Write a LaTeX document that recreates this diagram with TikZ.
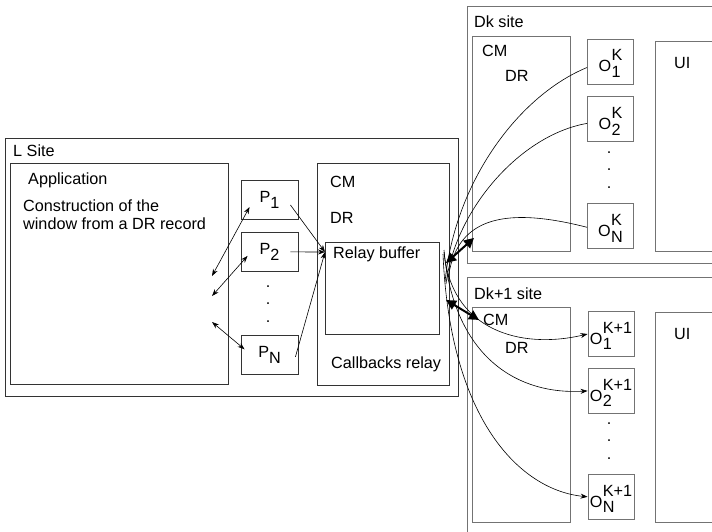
\documentclass[tikz,border=0pt]{standalone}
\usepackage{fontspec}
\setmainfont{Liberation Sans}
\usetikzlibrary{arrows.meta,positioning}

\newcommand{\pidx}[2]{#1\raisebox{-6pt}{#2}}
\newcommand{\oidx}[3]{\raisebox{-4pt}[\height][\depth]{#1\kern0.5pt\raisebox{2pt}{\begin{tabular}[c]{@{}l@{}}#2\\[-1pt]#3\end{tabular}}}}

\begin{document}
\begin{tikzpicture}[x=1pt, y=-1pt,
  every node/.style={font=\fontsize{16.2}{17.7}\selectfont, inner sep=0pt},
  sitebox/.style={draw=black!80, line width=0.9pt, anchor=north west},
  dkbox/.style={draw=black!55, line width=0.9pt, anchor=north west},
  pbox/.style={draw=black!80, line width=0.9pt, minimum width=57pt, minimum height=39pt},
  obox/.style={draw=black!55, line width=0.9pt, minimum width=46pt, minimum height=45pt},
  lbl/.style={anchor=north west, align=left},
  arr/.style={-{Stealth[length=7pt, width=5pt]}, line width=0.6pt},
  dblarr/.style={{Stealth[length=7pt, width=5pt]}-{Stealth[length=7pt, width=5pt]}, line width=0.6pt},
  bigarr/.style={{Triangle[length=10pt, width=10pt]}-{Triangle[length=10pt, width=10pt]}, line width=2pt},
  cbline/.style={line width=0.6pt}
]
\useasboundingbox (0,0) rectangle (712,531);
\clip (0,0) rectangle (712,531);

% L site
\node[sitebox, minimum width=453pt, minimum height=258pt] (lsite) at (5,138) {};
\node[lbl] (lsitelbl) at (13,145) {L Site};
\node[sitebox, minimum width=218pt, minimum height=221pt] (app) at (10,163) {};
\node[lbl] (applbl) at (28,173) {Application};
\node[lbl] (apptxt) at (23,200) {Construction of the\\window from a DR record};

\node[pbox] (p1) at (269.5,200) {\pidx{P}{1}};
\node[pbox, below=12pt of p1] (p2) {\pidx{P}{2}};
\node[pbox, below=63pt of p2] (pn) {\pidx{P}{N}};
\node[align=center] (pdots) at (268,304) {.\\.\\.};

\node[sitebox, minimum width=132pt, minimum height=222pt] (lcm) at (317,163) {};
\node[lbl] (lcmlbl) at (330,176) {CM};
\node[lbl] (ldrlbl) at (330,212) {DR};
\node[sitebox, minimum width=114pt, minimum height=92pt] (rbuf) at (325,242) {};
\node[lbl] (rbuflbl) at (333,247) {Relay buffer};
\node[lbl] (cblbl) at (331,357) {Callbacks relay};

% Dk site
\node[dkbox, minimum width=270pt, minimum height=257pt] (dk) at (467,6) {};
\node[lbl] (dklbl) at (474,16) {Dk site};
\node[dkbox, minimum width=98pt, minimum height=215pt] (dkcm) at (472,36) {};
\node[lbl] (dkcmlbl) at (482,45) {CM};
\node[lbl] (dkdrlbl) at (505,70) {DR};
\node[obox] (ok1) at (610.5,61.5) {\oidx{O}{K}{1}};
\node[obox, below=12pt of ok1] (ok2) {\oidx{O}{K}{2}};
\node[obox, below=61pt of ok2] (okn) {\oidx{O}{K}{N}};
\node[align=center] (okdots) at (609,170) {.\\.\\.};
\node[dkbox, minimum width=90pt, minimum height=210pt] (dkui) at (655,41) {};
\node[lbl] (dkuilbl) at (674,57) {UI};

% Dk+1 site
\node[dkbox, minimum width=270pt, minimum height=270pt] (dk1) at (467,277) {};
\node[lbl] (dk1lbl) at (474,288) {Dk+1 site};
\node[dkbox, minimum width=98pt, minimum height=215pt] (dk1cm) at (472,307) {};
\node[lbl] (dk1cmlbl) at (483,314) {CM};
\node[lbl] (dk1drlbl) at (505,342) {DR};
\node[obox] (o1) at (611,334) {\oidx{O}{K+1}{1}};
\node[obox, below=11pt of o1] (o2) {\oidx{O}{K+1}{2}};
\node[obox, below=60pt of o2] (on) {\oidx{O}{K+1}{N}};
\node[align=center] (odots) at (609,441) {.\\.\\.};
\node[dkbox, minimum width=90pt, minimum height=210pt] (dk1ui) at (655,312) {};
\node[lbl] (dk1uilbl) at (674,328) {UI};

% free ends
\coordinate (rbin) at ([yshift=-10pt]rbuf.north west);
\coordinate (a1) at (212,276);
\coordinate (a2) at (212,296);
\coordinate (a3) at (212,322);
\coordinate (hub1) at (446,263);
\coordinate (hub2) at (446,300);

% P -> relay buffer
\draw[arr] ([xshift=-8pt, yshift=-5pt]p1.east) -- (rbin);
\draw[arr] ([xshift=-8pt]p2.east) -- (rbin);
\draw[arr] ([xshift=-3pt, yshift=-2pt]pn.east) -- (rbin);
\draw[dblarr] (a1) -- ([xshift=9pt, yshift=-7pt]p1.west);
\draw[dblarr] (a2) -- ([xshift=7pt, yshift=-4pt]p2.west);
\draw[dblarr] (a3) -- ([xshift=4pt, yshift=5.5pt]pn.west);

% relay buffer <-> sites
\draw[bigarr] (hub1) -- ([xshift=2pt, yshift=14pt]dkcm.south west);
\draw[bigarr] (hub2) -- ([xshift=-4pt]dk1cmlbl.west);

% callbacks from Dk
\draw[cbline] ([yshift=-6pt]ok1.west) .. controls (520,95) and (455,180) .. (445,282);
\draw[cbline] ([yshift=-4pt]ok2.west) .. controls (520,135) and (455,210) .. (446,284);
\draw[cbline] ([yshift=-1pt]okn.west) .. controls (500,205) and (455,220) .. (448,280);

% callbacks to Dk+1
\draw[arr] (444,250) .. controls (450,330) and (520,350) .. (o1.west);
\draw[arr] (444,252) .. controls (455,360) and (520,395) .. (o2.west);
\draw[arr] (443,254) .. controls (450,420) and (520,490) .. (on.west);
\end{tikzpicture}
\end{document}
